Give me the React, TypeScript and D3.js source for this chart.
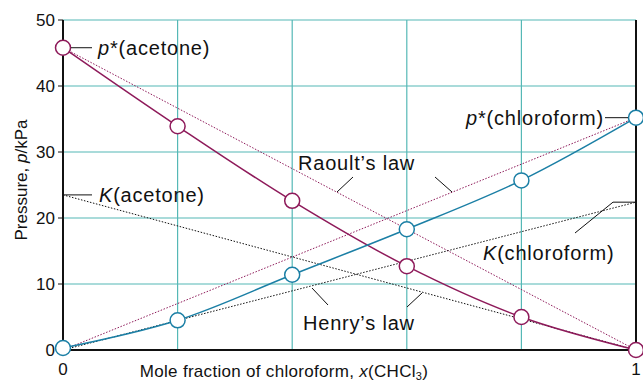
import { useMemo } from "react";
import * as d3 from "d3";

const W = 643;
const H = 383;
const MARGIN = { top: 20, right: 7, bottom: 33, left: 63 };

const xGrid = [0.2, 0.4, 0.6, 0.8];
const yTicks = [0, 10, 20, 30, 40, 50];
const xTickLabels = ["0", "1"];

const molFrac = [0, 0.2, 0.4, 0.6, 0.8, 1];
const acetoneP = [45.8, 33.9, 22.6, 12.7, 5.0, 0];
const chloroformP = [0.3, 4.5, 11.4, 18.3, 25.7, 35.2];

const KAcetone = 23.5;
const KChloroform = 22.4;

const MAGENTA = "#8e1a5a";
const BLUE = "#1b7fa5";
const GRID = "#55b8b6";
const FONT = "'Liberation Sans', Arial, sans-serif";

export default function App() {
  const bw = W - MARGIN.left - MARGIN.right;
  const bh = H - MARGIN.top - MARGIN.bottom;

  const x = useMemo(() => d3.scaleLinear().domain([0, 1]).range([0, bw]), [bw]);
  const y = useMemo(() => d3.scaleLinear().domain([0, 50]).range([bh, 0]), [bh]);

  const curve = d3
    .line<[number, number]>()
    .x((d) => x(d[0]))
    .y((d) => y(d[1]))
    .curve(d3.curveCatmullRom.alpha(0.5));
  const straight = d3
    .line<[number, number]>()
    .x((d) => x(d[0]))
    .y((d) => y(d[1]));

  const acetonePts = molFrac.map((m, i) => [m, acetoneP[i]] as [number, number]);
  const chloroPts = molFrac.map((m, i) => [m, chloroformP[i]] as [number, number]);

  const text = { fontFamily: FONT, fontSize: 17, fill: "#111" };
  const label = { fontFamily: FONT, fontSize: 20, letterSpacing: 0.8, fill: "#111" };

  // label positions are absolute page pixels, so translate them back into the plot group
  const ox = MARGIN.left;
  const oy = MARGIN.top;

  return (
    <svg width={W} height={H} style={{ position: "absolute", left: 0, top: 0 }}>
      <rect width={W} height={H} fill="#fff" />
      <g transform={`translate(${MARGIN.left},${MARGIN.top})`}>
        {/* grid */}
        {xGrid.map((g) => (
          <line key={g} x1={x(g)} x2={x(g)} y1={0} y2={bh} stroke={GRID} strokeWidth={1.2} />
        ))}
        {yTicks.filter((t) => t > 0).map((t) => (
          <line key={t} x1={0} x2={bw} y1={y(t)} y2={y(t)} stroke={GRID} strokeWidth={1.2} />
        ))}

        {/* Raoult's law */}
        <path d={straight([[0, acetoneP[0]], [1, 0]])!} stroke={MAGENTA} strokeWidth={1} strokeDasharray="1.5,1.6" fill="none" />
        <path d={straight([[0, 0], [1, chloroformP[5]]])!} stroke={MAGENTA} strokeWidth={1} strokeDasharray="1.5,1.6" fill="none" />
        {/* Henry's law */}
        <path d={straight([[0, KAcetone], [1, 0]])!} stroke="#111" strokeWidth={1} strokeDasharray="1.5,1.6" fill="none" />
        <path d={straight([[0, 0], [1, KChloroform]])!} stroke="#111" strokeWidth={1} strokeDasharray="1.5,1.6" fill="none" />

        {/* curves */}
        <path d={curve(acetonePts)!} stroke={MAGENTA} strokeWidth={1.5} fill="none" />
        <path d={curve(chloroPts)!} stroke={BLUE} strokeWidth={1.5} fill="none" />

        {/* axes */}
        <line x1={0} x2={0} y1={0} y2={bh} stroke="#111" strokeWidth={2} />
        <line x1={0} x2={bw} y1={bh} y2={bh} stroke="#111" strokeWidth={2} />
        <line x1={bw} x2={bw} y1={0} y2={bh} stroke="#111" strokeWidth={2} />
        {yTicks.map((t) => (
          <g key={t}>
            <line x1={-5} x2={0} y1={y(t)} y2={y(t)} stroke="#111" strokeWidth={1} />
            <text x={-8} y={y(t)} dy="0.35em" textAnchor="end" {...text}>{t}</text>
          </g>
        ))}
        {xTickLabels.map((l, i) => (
          <text key={l} x={x(i)} y={375 - oy} textAnchor="middle" {...text}>{l}</text>
        ))}

        {/* points */}
        {acetonePts.map((p, i) => (
          <circle key={"a" + i} cx={x(p[0])} cy={y(p[1])} r={7.5} fill="#fff" stroke={MAGENTA} strokeWidth={1.5} />
        ))}
        {chloroPts.map((p, i) => (
          <circle key={"c" + i} cx={x(p[0])} cy={y(p[1])} r={7.5} fill="#fff" stroke={BLUE} strokeWidth={1.5} />
        ))}

        {/* annotations */}
        <line x1={x(0) + 8} x2={92 - ox} y1={y(acetoneP[0])} y2={y(acetoneP[0])} stroke="#111" />
        <text x={98 - ox} y={y(acetoneP[0])} dy="0.35em" {...label}>
          <tspan fontStyle="italic">p</tspan>*(acetone)
        </text>

        <line x1={x(1) - 8} x2={605 - ox} y1={y(chloroformP[5])} y2={y(chloroformP[5])} stroke="#111" />
        <text x={604 - ox} y={y(chloroformP[5])} dy="0.35em" textAnchor="end" {...label}>
          <tspan fontStyle="italic">p</tspan>*(chloroform)
        </text>

        <line x1={0} x2={92 - ox} y1={y(KAcetone)} y2={y(KAcetone)} stroke="#111" />
        <text x={99 - ox} y={y(KAcetone)} dy="0.35em" {...label}>
          <tspan fontStyle="italic">K</tspan>(acetone)
        </text>

        <polyline points={`${x(1)},${y(KChloroform)} ${613 - ox},${y(KChloroform)} ${575 - ox},${233 - oy}`} fill="none" stroke="#111" />
        <text x={483 - ox} y={260 - oy} {...label}>
          <tspan fontStyle="italic">K</tspan>(chloroform)
        </text>

        <text x={298 - ox} y={170 - oy} {...label}>Raoult’s law</text>
        <line x1={337 - ox} x2={353 - ox} y1={192 - oy} y2={177 - oy} stroke="#111" />
        <line x1={435 - ox} x2={452 - ox} y1={177 - oy} y2={192 - oy} stroke="#111" />

        <text x={303 - ox} y={330 - oy} {...label}>Henry’s law</text>
        <line x1={312 - ox} x2={328 - ox} y1={288 - oy} y2={305 - oy} stroke="#111" />
        <line x1={422 - ox} x2={407 - ox} y1={293 - oy} y2={307 - oy} stroke="#111" />

        {/* axis titles */}
        <text x={284 - ox} y={377 - oy} textAnchor="middle" {...text} letterSpacing={0.3}>
          Mole fraction of chloroform, <tspan fontStyle="italic">x</tspan>(CHCl<tspan fontSize={11} dy={3}>3</tspan><tspan dy={-3}>)</tspan>
        </text>
        <text transform={`translate(${21 - ox},${180 - oy}) rotate(-90)`} dy="0.35em" textAnchor="middle" {...text}>
          Pressure, <tspan fontStyle="italic">p</tspan>/kPa
        </text>
      </g>
    </svg>
  );
}
